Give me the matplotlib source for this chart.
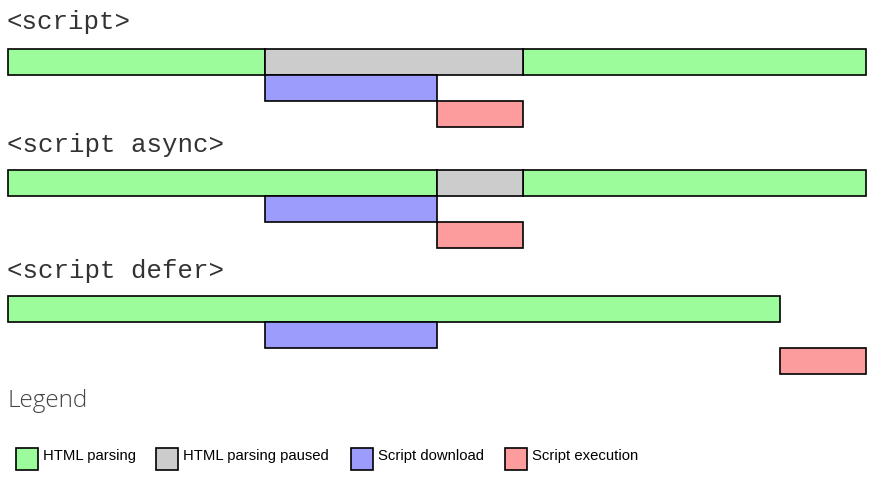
import matplotlib
matplotlib.use("Agg")
import matplotlib.pyplot as plt
from matplotlib.patches import Rectangle

titles = ["<script>", "<script async>", "<script defer>"]
parsing = [[(0, 3), (6, 10)], [(0, 5), (6, 10)], [(0, 9)]]
paused = [[(3, 6)], [(5, 6)], []]
download = [(3, 5), (3, 5), (3, 5)]
execution = [(5, 6), (5, 6), (9, 10)]
legend_labels = ["HTML parsing", "HTML parsing paused", "Script download", "Script execution"]
colors = {"parse": "#9cfc9c", "pause": "#cccccc", "down": "#9c9cfc", "exec": "#fc9c9c"}

W, H = 875, 489
fig = plt.figure(figsize=(W/100, H/100), dpi=100)
ax = fig.add_axes([0, 0, 1, 1])
scale = 85.8
ax.set_xlim(-8/scale, (W-8)/scale)
ax.set_ylim(H, 0)
ax.axis("off")

def px(x):
    return (x-8)/scale

def bar(t0, t1, y0, h, c):
    ax.add_patch(Rectangle((t0, y0), t1-t0, h, facecolor=c, edgecolor="black", lw=1.2))

tops = [50, 171, 297]
titley = [22, 145, 271]
for i in range(3):
    y = tops[i]
    ax.text(px(7), titley[i], titles[i], family="Liberation Mono", fontsize=18.5, va="center", ha="left", color="#333333")
    for a, b in parsing[i]:
        bar(a, b, y, 26, colors["parse"])
    for a, b in paused[i]:
        bar(a, b, y, 26, colors["pause"])
    a, b = download[i]
    bar(a, b, y+26, 26, colors["down"])
    a, b = execution[i]
    bar(a, b, y+52, 26, colors["exec"])

ax.text(px(7), 401, "Legend", fontsize=17.5, va="center", ha="left", color="#444444", family="Open Sans", fontweight="light")
lx = [16, 156, 351, 505]
for x0, lab, c in zip(lx, legend_labels, ["parse", "pause", "down", "exec"]):
    ax.add_patch(Rectangle((px(x0), 449), 22/scale, 22, facecolor=colors[c], edgecolor="black", lw=1.2))
    ax.text(px(x0+27), 456, lab, fontsize=10.7, va="center", ha="left", family="Liberation Sans")

fig.savefig("out.png", dpi=100)
